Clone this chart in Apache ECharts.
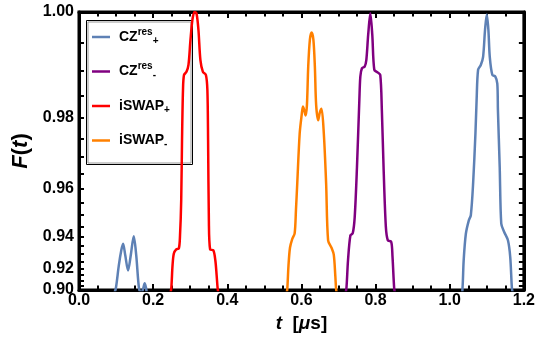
<!DOCTYPE html>
<html>
<head>
<meta charset="utf-8">
<script src="https://cdn.jsdelivr.net/npm/echarts@6.0.0/dist/echarts.min.js"></script>
<style>
  html, body { margin: 0; padding: 0; background: #fff; }
  #chart { width: 538px; height: 349px; }
</style>
</head>
<body>
<div id="chart"></div>
<script>
// time axis in microseconds, fidelity
const czPlusT = [0.094, 0.0993, 0.1074, 0.1141, 0.1189, 0.1248, 0.1323, 0.1396, 0.1477, 0.1544, 0.1619, 0.1678, 0.1732, 0.1772, 0.1812, 0.185,
  1.031, 1.0344, 1.0376, 1.0435, 1.0515, 1.0569, 1.0631, 1.0693, 1.0725, 1.0765, 1.0838, 1.090, 1.0953, 1.0999, 1.1042, 1.108, 1.115, 1.123, 1.1283, 1.130, 1.1348, 1.139, 1.1463, 1.157, 1.1632, 1.1678, 1.171];
const czPlusF = [0.895, 0.9017, 0.9224, 0.9324, 0.9362, 0.9293, 0.9185, 0.9293, 0.9402, 0.9293, 0.9017, 0.896, 0.9017, 0.9073, 0.9017, 0.895,
  0.895, 0.9017, 0.926, 0.9415, 0.9478, 0.950, 0.962, 0.9762, 0.984, 0.9901, 0.991, 0.9925, 0.9972, 0.9996, 0.9972, 0.9925, 0.9891, 0.9888, 0.9874, 0.9818, 0.9671, 0.9463, 0.9426, 0.9381, 0.9282, 0.9017, 0.895];

const czMinusT = [0.718, 0.7213, 0.7256, 0.7321, 0.7383, 0.7436, 0.7498, 0.7562, 0.7589, 0.7632, 0.7705, 0.7750, 0.780, 0.7858, 0.7911, 0.7965, 0.8054, 0.8126, 0.8169, 0.8215, 0.8277, 0.8330, 0.8421, 0.8456, 0.8502, 0.853];
const czMinusF = [0.895, 0.9017, 0.9259, 0.9407, 0.9417, 0.9490, 0.9671, 0.9840, 0.9888, 0.9904, 0.9907, 0.9919, 0.9963, 0.9998, 0.9963, 0.9901, 0.9896, 0.9891, 0.9818, 0.9671, 0.9448, 0.9381, 0.9373, 0.9286, 0.9017, 0.895];

const iswapPlusT = [0.2457, 0.2489, 0.2523, 0.2558, 0.2623, 0.2693, 0.2725, 0.2757, 0.2779, 0.2805, 0.2832, 0.2899, 0.2953, 0.3007, 0.306, 0.3114, 0.3168, 0.3221, 0.3275, 0.3342, 0.3423, 0.3463, 0.3482, 0.3503, 0.3536, 0.3624, 0.3678, 0.3713, 0.3740, 0.3767];
const iswapPlusF = [0.895, 0.9017, 0.9224, 0.9305, 0.9330, 0.9335, 0.9407, 0.956, 0.9746, 0.9861, 0.9891, 0.9897, 0.991, 0.9955, 0.9988, 1.0, 0.9998, 0.9972, 0.9919, 0.9897, 0.9891, 0.9861, 0.9746, 0.9478, 0.9330, 0.9324, 0.9259, 0.9144, 0.9017, 0.895];

const iswapMinusT = [0.5598, 0.5619, 0.5651, 0.5691, 0.5753, 0.5817, 0.5852, 0.5887, 0.5952, 0.6005, 0.604, 0.6075, 0.6113, 0.6148, 0.6183, 0.6228, 0.6274, 0.6322, 0.6362, 0.6397, 0.6451, 0.6497, 0.6542, 0.6604, 0.6666, 0.6719, 0.6811, 0.6872, 0.6913, 0.6934, 0.6955];
const iswapMinusF = [0.895, 0.9017, 0.9224, 0.9339, 0.9388, 0.9417, 0.9521, 0.9619, 0.9762, 0.9806, 0.9826, 0.9818, 0.9806, 0.9829, 0.9907, 0.9955, 0.9967, 0.9955, 0.9907, 0.9829, 0.9795, 0.9813, 0.9821, 0.9762, 0.9619, 0.9381, 0.9339, 0.9297, 0.9144, 0.9017, 0.895];

const yMajorTicks = [0.90, 0.92, 0.94, 0.96, 0.98, 1.00];
const yMinorTicks = [0.905, 0.91, 0.915, 0.925, 0.93, 0.935, 0.945, 0.95, 0.955, 0.965, 0.97, 0.975, 0.985, 0.99, 0.995];

const seriesNames = ['CZres+', 'CZres-', 'iSWAP+', 'iSWAP-'];
const legendText = {
  'CZres+': '{b0|CZ}{sup|res}{sub|+}',
  'CZres-': '{b0|CZ}{sup|res}{sub|-}',
  'iSWAP+': '{b0|iSWAP}{sub|+}',
  'iSWAP-': '{b0|iSWAP}{sub|-}'
};
const colors = ['#5e81b5', '#800080', '#ff0000', '#ff8000'];

// the y scale of the plot is exponential in F
const fy = f => Math.exp(20 * (f - 1));
const fInv = v => 1 + Math.log(v) / 20;
const pairs = (ts, fs) => ts.map((t, i) => [t, fy(fs[i])]);

const FONT = 'Liberation Sans, Arial, sans-serif';
const frame = () => ({ show: true, onZero: false, lineStyle: { color: '#000', width: 3 } });

function yAxisOf(position, labels) {
  return {
    type: 'value', position: position,
    min: fy(0.9), max: fy(1.0),
    splitLine: { show: false },
    axisLine: frame(),
    axisTick: { show: true, inside: true, length: 5, customValues: yMajorTicks.concat(yMinorTicks).map(fy), lineStyle: { color: '#000', width: 2 } },
    axisLabel: labels ? {
      show: true, customValues: yMajorTicks.map(fy), margin: 5,
      color: '#000', fontFamily: FONT, fontWeight: 'bold', fontSize: 16,
      formatter: v => fInv(v).toFixed(2)
    } : { show: false }
  };
}

function xAxisOf(position, labels) {
  return {
    type: 'value', position: position,
    min: 0, max: 1.2, interval: 0.2,
    splitLine: { show: false },
    axisLine: frame(),
    axisTick: { show: true, inside: true, length: 6, lineStyle: { color: '#000', width: 2 } },
    minorTick: { show: true, splitNumber: 4, length: 4.5, lineStyle: { color: '#000', width: 2 } },
    axisLabel: labels ? {
      show: true, margin: 3,
      color: '#000', fontFamily: FONT, fontWeight: 'bold', fontSize: 16,
      formatter: v => v.toFixed(1)
    } : { show: false }
  };
}

const xBottom = xAxisOf('bottom', true);
xBottom.name = '{i|t}  [{m|\u03bc}s]';
xBottom.nameLocation = 'middle';
xBottom.nameGap = 24;
xBottom.nameTextStyle = {
  color: '#000', fontFamily: FONT, fontWeight: 'bold', fontSize: 19,
  rich: { i: { fontStyle: 'italic', fontWeight: 'bold', fontSize: 19, fontFamily: FONT, color: '#000' },
          m: { fontStyle: 'italic', fontWeight: 'bold', fontSize: 19, fontFamily: FONT, color: '#000' } }
};

const yLeft = yAxisOf('left', true);
yLeft.name = '{i|F}({i|t})';
yLeft.nameLocation = 'middle';
yLeft.nameGap = 42;
yLeft.nameTextStyle = {
  color: '#000', fontFamily: FONT, fontWeight: 'bold', fontSize: 22,
  rich: { i: { fontStyle: 'italic', fontWeight: 'bold', fontSize: 22, fontFamily: FONT, color: '#000' } }
};

const chart = echarts.init(document.getElementById('chart'));
chart.setOption({
  animation: false,
  backgroundColor: '#fff',
  grid: { left: 79, right: 12, top: 12, bottom: 59, show: true, borderColor: '#000', borderWidth: 3, backgroundColor: 'transparent' },
  xAxis: [xBottom, xAxisOf('top', false)],
  yAxis: [yLeft, yAxisOf('right', false)],
  legend: {
    orient: 'vertical', left: 86, top: 20, padding: [7, 0, 0, 6],
    itemWidth: 18, itemHeight: 2.5, itemGap: 14.5, icon: 'rect',
    selectedMode: false,
    data: seriesNames,
    formatter: n => legendText[n],
    textStyle: {
      color: '#000', fontFamily: FONT, fontWeight: 'bold', fontSize: 14, lineHeight: 20,
      rich: {
        b0: { fontSize: 14, fontWeight: 'bold', fontFamily: FONT, color: '#000', lineHeight: 20, padding: [0, 0, 0, 4] },
        sup: { fontSize: 10, fontWeight: 'bold', fontFamily: FONT, color: '#000', lineHeight: 10, padding: [0, 0, 10, 0] },
        sub: { fontSize: 10, fontWeight: 'bold', fontFamily: FONT, color: '#000', lineHeight: 10, padding: [8, 0, 0, 0] }
      }
    }
  },
  graphic: [
    { type: 'rect', z: 3, shape: { x: 86.5, y: 20.5, width: 106, height: 144 }, style: { fill: '#fff', stroke: '#000', lineWidth: 1 } },
    { type: 'rect', z: 3, shape: { x: 88, y: 22, width: 103, height: 141 }, style: { fill: 'none', stroke: '#999', lineWidth: 1 } }
  ],
  series: [
    [czPlusT, czPlusF], [czMinusT, czMinusF], [iswapPlusT, iswapPlusF], [iswapMinusT, iswapMinusF]
  ].map(([ts, fs], i) => ({
    name: seriesNames[i],
    type: 'line',
    data: pairs(ts, fs),
    color: colors[i],
    showSymbol: false,
    smooth: 0.3,
    clip: true,
    lineStyle: { width: 2.5, color: colors[i] }
  }))
});
</script>
</body>
</html>
